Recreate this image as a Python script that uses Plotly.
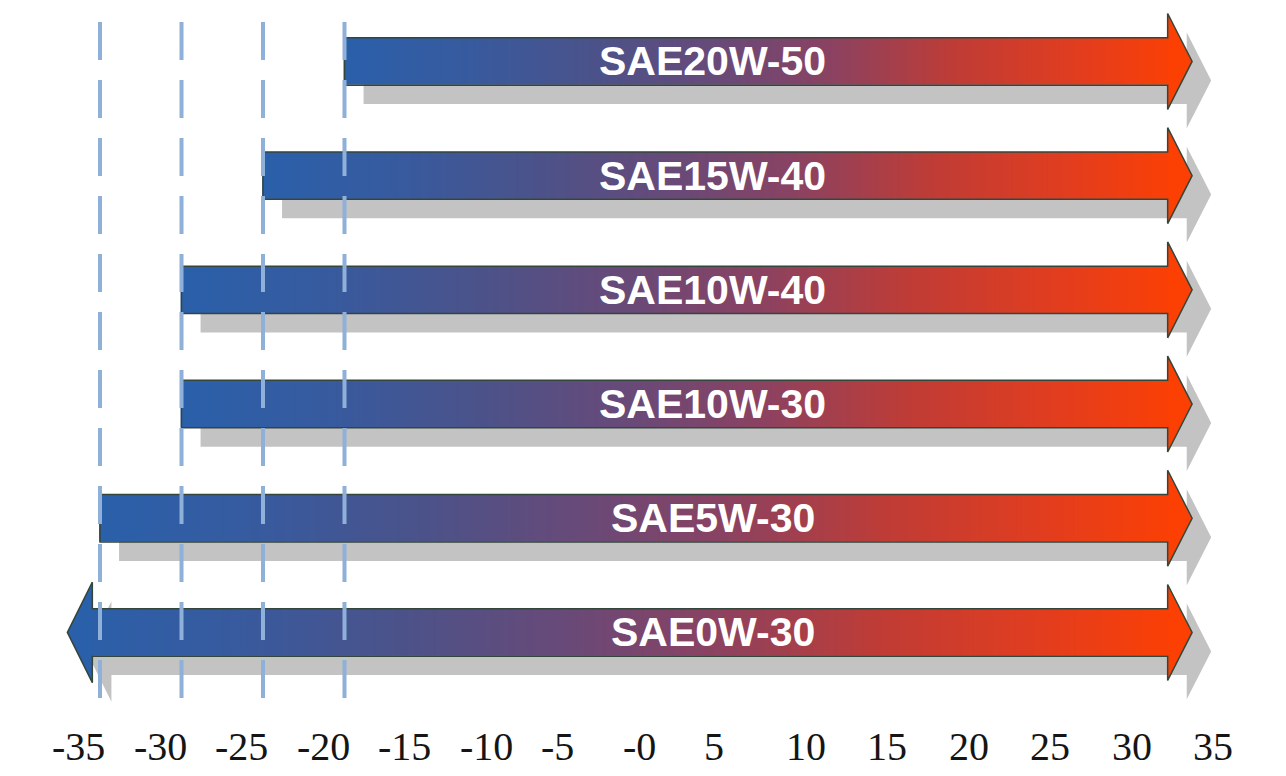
import numpy as np
import plotly.graph_objects as go

# ---------------- data ----------------
grades = ["SAE0W-30", "SAE5W-30", "SAE10W-30", "SAE10W-40", "SAE15W-40", "SAE20W-50"]
start_temp = [-37, -35, -30, -30, -25, -20]          # lowest usable temperature (0W-30 open-ended)
end_temp = [32, 32, 32, 32, 32, 32]                   # arrow tip (open-ended to the right)
open_left = [True, False, False, False, False, False]
guide_temps = [-35, -30, -25, -20]
tick_vals = [-35, -30, -25, -20, -15, -10, -5, 0, 5, 10, 15, 20, 25, 30, 35]
tick_text = ["-35", "-30", "-25", "-20", "-15", "-10", "-5", "-0", "5", "10", "15", "20", "25", "30", "35"]
label_x = 2.6

# ---------------- style ----------------
BODY_H = 0.2075
HEAD_H = 0.42
HEAD_H_L = 0.44
HEAD_LEN = 1.5
HEAD_LEN_L = 1.53
SH_DX, SH_DY = 1.17, -0.166
colorscale = [
    [0.0, "#2a60aa"],
    [0.15, "#385a9e"],
    [0.30, "#4c5289"],
    [0.45, "#6a4977"],
    [0.57, "#8a4262"],
    [0.72, "#bf3c36"],
    [0.87, "#e33d1e"],
    [1.0, "#ff4000"],
]
OUTLINE = "#34463c"
SHADOW = "#c3c3c3"

fig = go.Figure()
shapes = []


def arrow_path(x0, tip, yc, left, dx=0.0, dy=0.0):
    xb = tip - HEAD_LEN
    if left:
        lb = x0 + HEAD_LEN_L
        pts = [(x0, yc), (lb, yc + HEAD_H_L), (lb, yc + BODY_H), (xb, yc + BODY_H),
               (xb, yc + HEAD_H), (tip, yc), (xb, yc - HEAD_H), (xb, yc - BODY_H),
               (lb, yc - BODY_H), (lb, yc - HEAD_H_L)]
    else:
        pts = [(x0, yc - BODY_H), (xb, yc - BODY_H), (xb, yc - HEAD_H), (tip, yc),
               (xb, yc + HEAD_H), (xb, yc + BODY_H), (x0, yc + BODY_H)]
    return "M " + " L ".join(f"{x + dx:.4f},{y + dy:.4f}" for x, y in pts) + " Z"


for i, (g, s, e, ol) in enumerate(zip(grades, start_temp, end_temp, open_left)):
    yc = i
    # shadow
    shapes.append(dict(type="path", path=arrow_path(s, e, yc, ol, SH_DX, SH_DY),
                       xref="x", yref="y", fillcolor=SHADOW, line=dict(width=0), layer="below"))
    # gradient body
    body_start = s + HEAD_LEN_L if ol else s
    body_end = e - HEAD_LEN
    n = 160
    xe = np.linspace(body_start - 0.05, body_end + 0.05, n + 1)
    xc = (xe[:-1] + xe[1:]) / 2
    frac = (xc - s) / (e - s)
    fig.add_trace(go.Heatmap(
        x=xe, y=[yc - BODY_H, yc, yc + BODY_H], z=[frac, frac],
        zmin=0, zmax=1, colorscale=colorscale, showscale=False,
        zsmooth="best", hoverinfo="skip"))
    # heads
    xb = e - HEAD_LEN
    shapes.append(dict(type="path",
                       path=f"M {xb},{yc + HEAD_H} L {e},{yc} L {xb},{yc - HEAD_H} Z",
                       xref="x", yref="y", fillcolor="#fc4003", line=dict(width=0), layer="above"))
    if ol:
        lb = s + HEAD_LEN_L
        shapes.append(dict(type="path",
                           path=f"M {lb},{yc + HEAD_H_L} L {s},{yc} L {lb},{yc - HEAD_H_L} Z",
                           xref="x", yref="y", fillcolor="#2a60aa", line=dict(width=0), layer="above"))
    # outline
    shapes.append(dict(type="path", path=arrow_path(s, e, yc, ol),
                       xref="x", yref="y", fillcolor="rgba(0,0,0,0)",
                       line=dict(color=OUTLINE, width=1.5), layer="above"))

# dashed guide lines
for t in guide_temps:
    shapes.append(dict(type="line", x0=t, x1=t, y0=5.345, y1=-0.64, xref="x", yref="y",
                       line=dict(color="#8fb0d8", width=4, dash="38px,20px"), layer="above"))

annotations = []
for i, g in enumerate(grades):
    annotations.append(dict(x=label_x, y=i, xref="x", yref="y", text=g, showarrow=False,
                            font=dict(family="Liberation Sans", size=41, color="white", weight="bold"),
                            xanchor="center", yanchor="middle"))
for v, t in zip(tick_vals, tick_text):
    annotations.append(dict(x=v, y=-1.0, xref="x", yref="y", text=t, showarrow=False,
                            font=dict(family="Liberation Serif", size=40, color="#151515"),
                            xanchor="left", yanchor="middle", xshift=-50))

fig.update_layout(
    width=1286, height=776,
    margin=dict(l=0, r=0, t=0, b=0),
    paper_bgcolor="white", plot_bgcolor="white",
    xaxis=dict(range=[-41.135, 37.76], visible=False, fixedrange=True),
    yaxis=dict(range=[-1.257, 5.538], visible=False, fixedrange=True),
    shapes=shapes, annotations=annotations, showlegend=False,
)

fig.write_html("out.html")
